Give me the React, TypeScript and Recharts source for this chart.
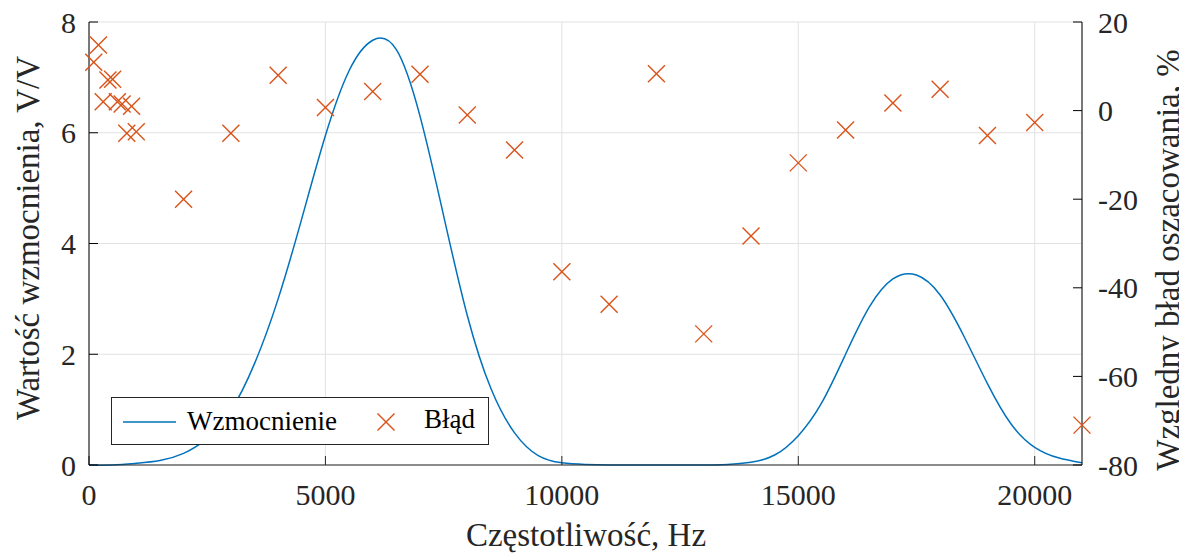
import { ComposedChart, Line, Scatter, XAxis, YAxis, CartesianGrid, Legend } from 'recharts';

// gain curve (Hz -> V/V)
const FREQ_GAIN = [0, 500, 1000, 1500, 2000, 2500, 3000, 3500, 4000, 4500, 5000, 5500, 6000, 6500, 7000, 7500, 8000, 8500, 9000, 9500, 10000, 10500, 11000, 11500, 12000, 12500, 13000, 13500, 14000, 14500, 15000, 15500, 16000, 16500, 17000, 17500, 18000, 18500, 19000, 19500, 20000, 20500, 21000];
const GAIN = [0, 0, 0.03, 0.08, 0.21, 0.48, 0.98, 1.83, 3.0, 4.45, 5.95, 7.12, 7.67, 7.5, 6.3, 4.5, 2.7, 1.38, 0.58, 0.17, 0.04, 0.01, 0, 0, 0, 0, 0, 0.01, 0.05, 0.18, 0.53, 1.13, 2.0, 2.85, 3.36, 3.43, 3.07, 2.33, 1.47, 0.74, 0.32, 0.13, 0.04];

// relative estimation error (Hz -> %)
const FREQ_ERR = [100, 200, 300, 400, 500, 600, 700, 800, 900, 1000, 2000, 3000, 4000, 5000, 6000, 7000, 8000, 9000, 10000, 11000, 12000, 13000, 14000, 15000, 16000, 17000, 18000, 19000, 20000, 21000];
const ERR = [10.9, 14.8, 2.0, 6.9, 7.1, 2.0, 1.5, -5.1, 1.0, -4.8, -20.0, -5.1, 8.0, 0.7, 4.3, 8.2, -1.0, -8.9, -36.4, -43.7, 8.3, -50.4, -28.3, -11.8, -4.4, 1.7, 4.8, -5.6, -2.7, -71.0];

const X_TICKS = [0, 5000, 10000, 15000, 20000];
const LEFT_TICKS = [0, 2, 4, 6, 8];
const RIGHT_TICKS = [-80, -60, -40, -20, 0, 20];

const BLUE = '#0072BD';
const ORANGE = '#D95319';
const AXIS = '#262626';
const FONT = '"Liberation Serif", "Times New Roman", serif';

const gainData = FREQ_GAIN.map((f, i) => ({ f, g: GAIN[i] }));
const errData = FREQ_ERR.map((f, i) => ({ f, e: ERR[i] }));

const tickStyle = { fill: AXIS, fontSize: 30, fontFamily: FONT };

const CrossMark = (props: any) => {
    const { cx, cy } = props;
    if (cx == null || cy == null) return null;
    const r = 8.5;
    return (
        <g stroke={ORANGE} strokeWidth={1.4}>
            <line x1={cx - r} y1={cy - r} x2={cx + r} y2={cy + r} />
            <line x1={cx - r} y1={cy + r} x2={cx + r} y2={cy - r} />
        </g>
    );
};

const LegendBox = () => (
    <div style={{
        width: 376, height: 46, border: `1.5px solid ${AXIS}`, background: '#fff',
        position: 'relative', fontFamily: FONT, fontSize: 27, color: '#000'
    }}>
        <svg width={376} height={46} style={{ position: 'absolute', left: 0, top: 0 }}>
            <line x1={11} y1={24} x2={64} y2={24} stroke={BLUE} strokeWidth={1.5} />
            <line x1={265.5} y1={15.5} x2={282.5} y2={32.5} stroke={ORANGE} strokeWidth={1.4} />
            <line x1={265.5} y1={32.5} x2={282.5} y2={15.5} stroke={ORANGE} strokeWidth={1.4} />
        </svg>
        <span style={{ position: 'absolute', left: 75, top: 6, lineHeight: '34px' }}>Wzmocnienie</span>
        <span style={{ position: 'absolute', left: 312, top: 4, lineHeight: '34px' }}>Błąd</span>
    </div>
);

const labelBase: React.CSSProperties = {
    position: 'absolute', fontFamily: FONT, fontSize: 33, color: AXIS,
    whiteSpace: 'nowrap', lineHeight: 1
};

export default function App() {
    return (
        <div style={{ position: 'relative', width: 1171, height: 556, marginTop: -8 }}>
            <ComposedChart width={1171} height={548} margin={{ top: 22, right: 17, bottom: 43, left: 21 }}>
                <CartesianGrid stroke="#e2e2e2" yAxisId="left" />
                <XAxis
                    type="number" dataKey="f" domain={[0, 21000]} ticks={X_TICKS} interval={0}
                    height={40} tickSize={-9} tickMargin={28}
                    axisLine={{ stroke: AXIS }} tickLine={{ stroke: AXIS }} tick={tickStyle}
                />
                <XAxis
                    xAxisId="top" orientation="top" type="number" dataKey="f" domain={[0, 21000]} ticks={X_TICKS}
                    height={0} tickSize={-9} tick={false}
                    axisLine={{ stroke: AXIS }} tickLine={{ stroke: AXIS }}
                />
                <YAxis
                    yAxisId="left" domain={[0, 8]} ticks={LEFT_TICKS} interval={0}
                    width={60} tickSize={-9} tickMargin={22}
                    axisLine={{ stroke: '#000' }} tickLine={{ stroke: '#000' }} tick={tickStyle}
                />
                <YAxis
                    yAxisId="right" orientation="right" domain={[-80, 20]} ticks={RIGHT_TICKS} interval={0}
                    width={80} tickSize={-9} tickMargin={25}
                    axisLine={{ stroke: '#000' }} tickLine={{ stroke: '#000' }} tick={tickStyle}
                />
                <Line
                    yAxisId="left" data={gainData} dataKey="g" type="natural" stroke={BLUE} strokeWidth={1.5}
                    dot={false} activeDot={false} isAnimationActive={false} name="Wzmocnienie"
                />
                <Scatter
                    yAxisId="right" data={errData} dataKey="e" shape={CrossMark}
                    isAnimationActive={false} name="Błąd"
                />
                <Legend
                    layout="horizontal" verticalAlign="middle" align="center" content={<LegendBox />}
                    wrapperStyle={{ left: 103, top: 397, bottom: 'auto', width: 'auto', height: 'auto' }}
                />
            </ComposedChart>
            <div style={{ ...labelBase, left: 578, top: 535, transform: 'translate(-50%, -50%)' }}>
                Częstotliwość, Hz
            </div>
            <div style={{ ...labelBase, left: 20, top: 238, transform: 'translate(-50%, -50%) rotate(-90deg)' }}>
                Wartość wzmocnienia, V/V
            </div>
            <div style={{ ...labelBase, left: 1160, top: 260, transform: 'translate(-50%, -50%) rotate(-90deg)' }}>
                Względny błąd oszacowania, %
            </div>
        </div>
    );
}
